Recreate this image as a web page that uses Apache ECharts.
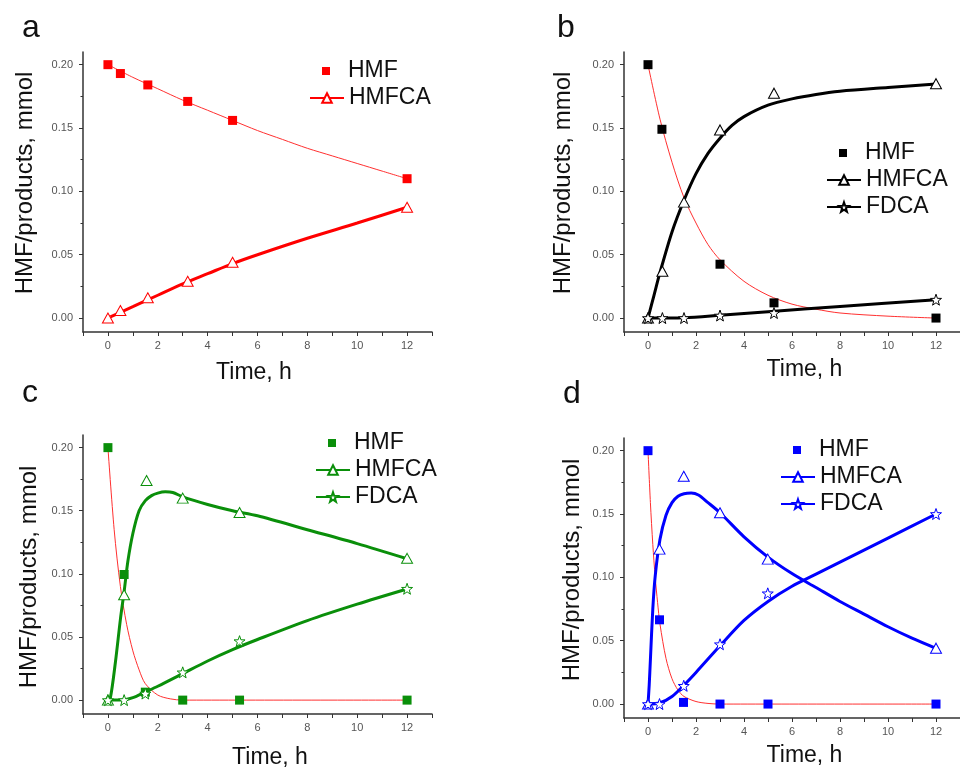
<!DOCTYPE html>
<html>
<head>
<meta charset="utf-8">
<script src="https://cdn.jsdelivr.net/npm/echarts@6/dist/echarts.min.js"></script>
<style>html,body{margin:0;padding:0;background:#fff}#c{width:960px;height:770px}</style>
</head>
<body>
<div id="c"></div>
<script>
// ---- tick labels ----
const xTickLabels = [0, 2, 4, 6, 8, 10, 12];
const xTicks = [-1, 0, 1, 2, 3, 4, 5, 6, 7, 8, 9, 10, 11, 12, 13];
const yTickLabels = [0, 0.05, 0.10, 0.15, 0.20];
const yMinorTicks = [0.025, 0.075, 0.125, 0.175];
const panelLetters = ['a', 'b', 'c', 'd'];
const xTitle = 'Time, h';
const yTitle = 'HMF/products, mmol';

// ---- panel a ----
const aHMF = [[0, 0.200], [0.5, 0.193], [1.6, 0.184], [3.2, 0.171], [5.0, 0.156], [12, 0.110]];
const aHMFfit = [[0, 0.200], [1, 0.190], [2, 0.181], [3, 0.172], [4, 0.164], [5, 0.156], [6, 0.148], [7, 0.141], [8, 0.134], [9, 0.128], [10, 0.122], [11, 0.116], [12, 0.110]];
const aHMFCA = [[0, 0.000], [0.5, 0.006], [1.6, 0.016], [3.2, 0.029], [5.0, 0.044], [12, 0.0875]];
const aHMFCAfit = [[0.1, 0.001], [1, 0.009], [2, 0.018], [3, 0.027], [4, 0.035], [5, 0.043], [6, 0.050], [8, 0.063], [10, 0.075], [12, 0.0875]];

// ---- panel b ----
const bHMF = [[0, 0.200], [0.58, 0.149], [3.0, 0.0425], [5.25, 0.012], [12, 0.000]];
const bHMFfit = [[0, 0.200], [0.5, 0.157], [1, 0.123], [1.5, 0.095], [2, 0.075], [2.5, 0.058], [3, 0.046], [4, 0.029], [5, 0.018], [6, 0.011], [7, 0.007], [8, 0.004], [10, 0.0015], [12, 0.0]];
const bHMFCA = [[0, 0.000], [0.6, 0.037], [1.5, 0.0915], [3.0, 0.1485], [5.25, 0.1775], [12, 0.185]];
const bHMFCAfit = [[0, 0], [0.25, 0.018], [0.5, 0.036], [1, 0.068], [1.5, 0.093], [2, 0.114], [2.5, 0.130], [3, 0.142], [3.5, 0.152], [4, 0.159], [5, 0.168], [6, 0.173], [7, 0.1765], [8, 0.179], [10, 0.182], [12, 0.1848]];
const bFDCA = [[0, 0], [0.6, 0], [1.5, 0], [3.0, 0.002], [5.25, 0.004], [12, 0.0145]];
const bFDCAfit = [[0, 0], [1.5, 0.0003], [3, 0.0022], [5, 0.005], [8, 0.0092], [12, 0.0145]];

// ---- panel c ----
const cHMF = [[0, 0.200], [0.65, 0.0995], [1.5, 0.0063], [3.0, 0], [5.28, 0], [12, 0]];
const cHMFfit = [[0, 0.200], [0.25, 0.135], [0.5, 0.090], [0.75, 0.060], [1, 0.039], [1.25, 0.024], [1.5, 0.013], [2, 0.004], [2.5, 0.001], [3, 0], [12, 0]];
const cHMFCA = [[0, 0], [0.65, 0.0835], [1.55, 0.174], [3.0, 0.160], [5.28, 0.1486], [12, 0.1123]];
const cHMFCAfit = [[0, 0], [0.1, 0.002], [0.3, 0.030], [0.5, 0.064], [0.65, 0.086], [0.8, 0.110], [1, 0.132], [1.25, 0.150], [1.5, 0.158], [1.75, 0.162], [2, 0.164], [2.3, 0.165], [2.6, 0.1645], [3, 0.161], [4, 0.155], [5, 0.150], [6, 0.146], [8, 0.135], [10, 0.124], [12, 0.112]];
const cFDCA = [[0, 0], [0.65, 0], [1.5, 0.0052], [3.0, 0.022], [5.28, 0.0467], [12, 0.0882]];
const cFDCAfit = [[0, 0], [0.5, 0], [1, 0.002], [1.5, 0.0065], [2, 0.011], [3, 0.021], [4, 0.031], [5, 0.040], [6, 0.048], [8, 0.063], [10, 0.076], [12, 0.088]];

// ---- panel d ----
const dHMF = [[0, 0.200], [0.48, 0.0665], [1.48, 0.0013], [3.0, 0], [5.0, 0], [12, 0]];
const dHMFfit = [[0, 0.200], [0.1, 0.159], [0.2, 0.126], [0.3, 0.100], [0.4, 0.080], [0.5, 0.063], [0.75, 0.036], [1, 0.020], [1.25, 0.011], [1.5, 0.006], [2, 0.002], [2.5, 0.0005], [3, 0], [12, 0]];
const dHMFCA = [[0, 0], [0.48, 0.1223], [1.49, 0.1798], [3.0, 0.151], [4.99, 0.1144], [12, 0.0441]];
const dHMFCAfit = [[0, 0], [0.05, 0.015], [0.1, 0.035], [0.2, 0.075], [0.3, 0.101], [0.5, 0.130], [0.75, 0.149], [1, 0.159], [1.25, 0.164], [1.5, 0.166], [1.8, 0.1665], [2.1, 0.165], [2.5, 0.159], [3, 0.151], [4, 0.132], [5, 0.116], [6, 0.103], [7, 0.092], [8, 0.081], [9, 0.071], [10, 0.061], [11, 0.052], [12, 0.044]];
const dFDCA = [[0, 0], [0.48, 0], [1.49, 0.0144], [3.0, 0.0472], [4.99, 0.0874], [12, 0.150]];
const dFDCAfit = [[0, 0], [0.5, 0.001], [1, 0.006], [1.5, 0.015], [2, 0.025], [3, 0.046], [4, 0.066], [5, 0.081], [6, 0.093], [7, 0.1025], [8, 0.112], [10, 0.131], [12, 0.150]];

// ---- layout / style ----
const FONT = 'Liberation Sans, Arial, sans-serif';
const STAR = 'path://M12,0 L14.9,8.1 L23.4,8.3 L16.6,13.4 L19.1,21.6 L12,16.8 L4.9,21.6 L7.4,13.4 L0.6,8.3 L9.1,8.1 Z';
const SQUARE = 'path://M0,0 L10,0 L10,10 L0,10 Z';
const FITRED = '#ff3030';

const panels = [
  { key: 'a', color: '#ff0000', grid: { left: 83, top: 52, width: 349, height: 280 },
    hmf: aHMF, hmfFit: aHMFfit, hmfca: aHMFCA, hmfcaFit: aHMFCAfit, fdca: null, fdcaFit: null,
    letter: { left: 22, top: 12 }, legend: { left: 309, cy: 71 },
    xGap: 29, xPad: [0, 7, 0, 0], yGap: 46, yPad: [0, 0, 0, 18] },
  { key: 'b', color: '#000000', grid: { left: 624, top: 52, width: 347, height: 280 },
    hmf: bHMF, hmfFit: bHMFfit, hmfca: bHMFCA, hmfcaFit: bHMFCAfit, fdca: bFDCA, fdcaFit: bFDCAfit,
    letter: { left: 557, top: 12 }, legend: { left: 826, cy: 153 },
    xGap: 26, xPad: [0, 0, 0, 25], yGap: 49, yPad: [0, 0, 0, 18] },
  { key: 'c', color: '#0a8f0a', grid: { left: 83, top: 435, width: 349, height: 279 },
    hmf: cHMF, hmfFit: cHMFfit, hmfca: cHMFCA, hmfcaFit: cHMFCAfit, fdca: cFDCA, fdcaFit: cFDCAfit,
    letter: { left: 22, top: 377 }, legend: { left: 315, cy: 443 },
    xGap: 32, xPad: [0, 0, 0, 25], yGap: 42, yPad: [0, 5, 0, 0] },
  { key: 'd', color: '#0000ff', grid: { left: 624, top: 438, width: 347, height: 280 },
    hmf: dHMF, hmfFit: dHMFfit, hmfca: dHMFCA, hmfcaFit: dHMFCAfit, fdca: dFDCA, fdcaFit: dFDCAfit,
    letter: { left: 563, top: 378 }, legend: { left: 780, cy: 450 },
    xGap: 26, xPad: [0, 0, 0, 25], yGap: 40, yPad: [0, 0, 0, 16] }
];

const option = { animation: false, backgroundColor: '#fff', title: [], grid: [], xAxis: [], yAxis: [], legend: [], series: [] };
const axisCol = '#333';
const stripName = n => n.split('|')[0];

panels.forEach((p, i) => {
  option.title.push({ text: panelLetters[i], left: p.letter.left, top: p.letter.top, padding: 0,
    textStyle: { fontFamily: FONT, fontSize: 32, fontWeight: 'normal', color: '#111' } });
  option.grid.push(Object.assign({ containLabel: false }, p.grid));
  option.xAxis.push({
    gridIndex: i, type: 'value', min: -1, max: 13,
    name: xTitle, nameLocation: 'middle', nameGap: p.xGap,
    nameTextStyle: { fontFamily: FONT, fontSize: 23, color: '#111', padding: p.xPad },
    axisLine: { show: true, onZero: false, lineStyle: { color: axisCol, width: 1.5 } },
    axisTick: { show: true, length: 4, customValues: xTicks, lineStyle: { color: axisCol, width: 1 } },
    axisLabel: { customValues: xTickLabels, margin: 8, fontFamily: FONT, fontSize: 11, color: '#555' },
    splitLine: { show: false }
  });
  option.yAxis.push({
    gridIndex: i, type: 'value', min: -0.011, max: 0.21,
    name: yTitle, nameLocation: 'middle', nameGap: p.yGap,
    nameTextStyle: { fontFamily: FONT, fontSize: 24, color: '#111', padding: p.yPad },
    axisLine: { show: true, onZero: false, lineStyle: { color: axisCol, width: 1.5 } },
    axisTick: { show: true, length: 4, customValues: yTickLabels, lineStyle: { color: axisCol, width: 1 } },
    axisLabel: { customValues: yTickLabels, margin: 10, fontFamily: FONT, fontSize: 11, color: '#555',
      formatter: v => v.toFixed(2) },
    splitLine: { show: false }
  });
  option.yAxis.push({
    gridIndex: i, type: 'value', min: -0.011, max: 0.21, position: 'left',
    axisLine: { show: false, onZero: false },
    axisTick: { show: true, length: 2.5, customValues: yMinorTicks, lineStyle: { color: axisCol, width: 1 } },
    axisLabel: { show: false }, splitLine: { show: false }
  });
  const yi = 2 * i;
  const c = p.color;
  // fitted HMF curve (thin red)
  option.series.push({ name: 'HMFfit|' + p.key, type: 'line', xAxisIndex: i, yAxisIndex: yi, data: p.hmfFit,
    smooth: 0.3, showSymbol: false, symbol: 'none', lineStyle: { color: FITRED, width: 1 }, z: 2, silent: true });
  // HMFCA curve
  option.series.push({ name: 'HMFCA|' + p.key, type: 'line', xAxisIndex: i, yAxisIndex: yi, data: p.hmfcaFit,
    smooth: 0.3, showSymbol: false, symbol: 'triangle', symbolSize: [11, 10],
    itemStyle: { color: '#fff', borderColor: c, borderWidth: 1 },
    lineStyle: { color: c, width: 3 }, z: 3, silent: true });
  if (p.fdcaFit) {
    option.series.push({ name: 'FDCA|' + p.key, type: 'line', xAxisIndex: i, yAxisIndex: yi, data: p.fdcaFit,
      smooth: 0.3, showSymbol: false, symbol: STAR, symbolSize: 11,
      itemStyle: { color: '#fff', borderColor: c, borderWidth: 1 },
      lineStyle: { color: c, width: 3 }, z: 3, silent: true });
  }
  // measured points
  option.series.push({ name: 'HMF|' + p.key, type: 'scatter', xAxisIndex: i, yAxisIndex: yi, data: p.hmf,
    symbol: 'rect', symbolSize: 9, itemStyle: { color: c, opacity: 1 }, z: 5, silent: true });
  option.series.push({ name: 'HMFCApts|' + p.key, type: 'scatter', xAxisIndex: i, yAxisIndex: yi, data: p.hmfca,
    symbol: 'triangle', symbolSize: [11, 10], itemStyle: { color: '#fff', borderColor: c, borderWidth: 1, opacity: 1 }, z: 5, silent: true });
  if (p.fdca) {
    option.series.push({ name: 'FDCApts|' + p.key, type: 'scatter', xAxisIndex: i, yAxisIndex: yi, data: p.fdca,
      symbol: STAR, symbolSize: 11, itemStyle: { color: '#fff', borderColor: c, borderWidth: 1, opacity: 1 }, z: 5, silent: true });
  }
  // legends
  const lt = { fontFamily: FONT, fontSize: 23, color: '#111' };
  option.legend.push({ data: [{ name: 'HMF|' + p.key, icon: SQUARE }], left: p.legend.left + 13, top: p.legend.cy - 11.5,
    orient: 'vertical', padding: 0, itemWidth: 34, itemHeight: 8, symbolKeepAspect: true,
    textStyle: lt, formatter: stripName, selectedMode: false });
  const lineNames = ['HMFCA|' + p.key];
  if (p.fdca) lineNames.push('FDCA|' + p.key);
  option.legend.push({ data: lineNames, left: p.legend.left, top: p.legend.cy + 27 - 11.5,
    orient: 'vertical', padding: 0, itemGap: 4, itemWidth: 34, itemHeight: 12, textStyle: lt, formatter: stripName, selectedMode: false });
});

const chart = echarts.init(document.getElementById('c'), null, { renderer: 'canvas', width: 960, height: 770 });
chart.setOption(option);
</script>
</body>
</html>
